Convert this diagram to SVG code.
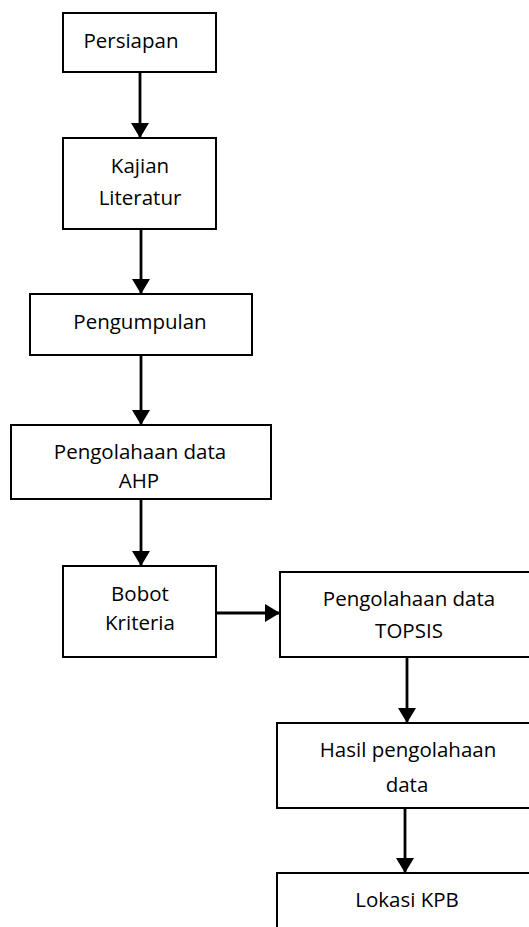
<svg xmlns="http://www.w3.org/2000/svg" width="529" height="927" viewBox="0 0 529 927">
  <style>
    .box { fill: #ffffff; stroke: #000000; stroke-width: 2; }
    .lbl { font-family: "Open Sans", "Liberation Sans", sans-serif; font-size: 20.5px; fill: #000000; text-anchor: middle; }
    .edge { stroke: #000000; stroke-width: 2.8; fill: none; marker-end: url(#head); }
  </style>
  <defs>
    <marker id="head" markerUnits="userSpaceOnUse" markerWidth="16" markerHeight="18" viewBox="0 0 16 18" refX="15" refY="9" orient="auto">
      <path d="M0,0 L15,9 L0,18 Z" fill="#000000"/>
    </marker>
  </defs>
  <rect x="0" y="0" width="529" height="927" fill="#ffffff"/>

  <g id="edges">
    <line class="edge" x1="140" y1="72" x2="140" y2="138"/>
    <line class="edge" x1="141" y1="229" x2="141" y2="294"/>
    <line class="edge" x1="141" y1="355" x2="141" y2="425"/>
    <line class="edge" x1="141" y1="499" x2="141" y2="566"/>
    <line class="edge" x1="216" y1="613" x2="280" y2="613"/>
    <line class="edge" x1="407" y1="657" x2="407" y2="723"/>
    <line class="edge" x1="405" y1="808" x2="405" y2="873"/>
  </g>

  <g id="persiapan">
    <rect class="box" x="63" y="13" width="153" height="59"/>
    <text class="lbl" x="131" y="48">Persiapan</text>
  </g>
  <g id="kajian-literatur">
    <rect class="box" x="63" y="138" width="153" height="91"/>
    <text class="lbl" x="140" y="173">Kajian</text>
    <text class="lbl" x="140" y="205">Literatur</text>
  </g>
  <g id="pengumpulan">
    <rect class="box" x="30" y="294" width="222" height="61"/>
    <text class="lbl" x="140" y="329">Pengumpulan</text>
  </g>
  <g id="pengolahan-ahp">
    <rect class="box" x="11" y="425" width="260" height="74"/>
    <text class="lbl" x="140" y="459">Pengolahaan data</text>
    <text class="lbl" x="139" y="488">AHP</text>
  </g>
  <g id="bobot-kriteria">
    <rect class="box" x="63" y="566" width="153" height="91"/>
    <text class="lbl" x="140" y="601">Bobot</text>
    <text class="lbl" x="140" y="630">Kriteria</text>
  </g>
  <g id="pengolahan-topsis">
    <rect class="box" x="280" y="572" width="258" height="85"/>
    <text class="lbl" x="409" y="606">Pengolahaan data</text>
    <text class="lbl" x="409" y="638">TOPSIS</text>
  </g>
  <g id="hasil-pengolahan">
    <rect class="box" x="277" y="723" width="262" height="85"/>
    <text class="lbl" x="408" y="757">Hasil pengolahaan</text>
    <text class="lbl" x="407" y="792">data</text>
  </g>
  <g id="lokasi-kpb">
    <rect class="box" x="277" y="873" width="262" height="80"/>
    <text class="lbl" x="407" y="907">Lokasi KPB</text>
  </g>
</svg>
